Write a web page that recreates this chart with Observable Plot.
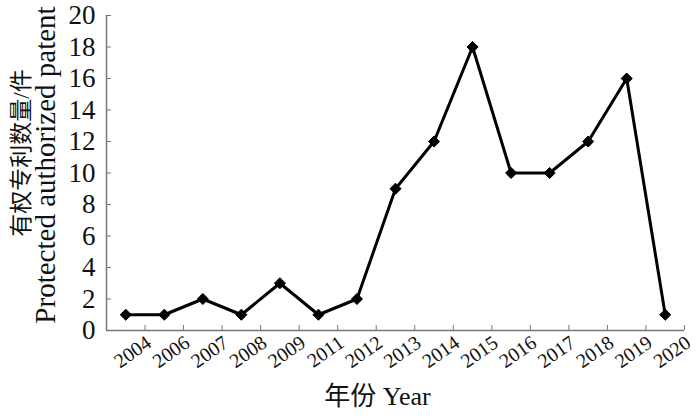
<!DOCTYPE html>
<html>
<head>
<meta charset="utf-8">
<script src="https://cdn.jsdelivr.net/npm/d3@7"></script>
<script src="https://cdn.jsdelivr.net/npm/@observablehq/plot@0.6"></script>
<style>
  html, body { margin: 0; padding: 0; background: #fff; }
  svg text { font-family: 'Liberation Serif', 'Noto Sans CJK SC', serif !important; font-variant: normal !important; }
</style>
</head>
<body>
<div id="chart"></div>
<script>
const years = ["2004","2006","2007","2008","2009","2011","2012","2013","2014","2015","2016","2017","2018","2019","2020"];
const counts = [1, 1, 2, 1, 3, 1, 2, 9, 12, 18, 10, 10, 12, 16, 1];
const yTicks = [0, 2, 4, 6, 8, 10, 12, 14, 16, 18, 20];
const yLabelZh = "有权专利数量/件";
const yLabelEn = "Protected authorized patent";
const xLabel = "年份 Year";

const data = counts.map((v, i) => ({pos: i + 0.5, value: v, year: years[i]}));
const tickPos = years.map((_, i) => i + 1);

const serif = "Liberation Serif, Noto Sans CJK SC, serif";
const axisColor = "#777";

const chart = Plot.plot({
  width: 700,
  height: 419,
  marginLeft: 106,
  marginRight: 16,
  marginTop: 15,
  marginBottom: 89,
  style: {fontFamily: serif, background: "#fff", color: "#111"},
  x: {domain: [0, years.length], axis: null},
  y: {domain: [0, 20], axis: null},
  marks: [
    Plot.ruleY([0], {stroke: axisColor, strokeWidth: 1.5}),
    Plot.ruleX([0], {stroke: axisColor, strokeWidth: 1.5}),
    Plot.axisX(tickPos, {anchor: "bottom", tickSize: 5, dy: -5, tickFormat: () => "", stroke: axisColor, label: null}),
    Plot.axisY(yTicks, {anchor: "left", tickSize: 5, dx: 5, tickFormat: () => "", stroke: axisColor, label: null}),
    Plot.axisX(tickPos, {anchor: "bottom", tickSize: 0, tickPadding: 10, dx: 4, tickRotate: -35, tickFormat: d => years[d - 1], fontSize: 20, fontFamily: serif, fontVariant: "normal", fill: "#111", label: null}),
    Plot.axisY(yTicks, {anchor: "left", tickSize: 0, tickPadding: 11, fontSize: 27, fontFamily: serif, fontVariant: "normal", fill: "#111", label: null}),
    Plot.line(data, {x: "pos", y: "value", stroke: "#000", strokeWidth: 3, strokeLinejoin: "miter"}),
    Plot.dot(data, {x: "pos", y: "value", symbol: "diamond2", r: 5, fill: "#000", stroke: "#000", strokeWidth: 1}),
    Plot.text([yLabelZh], {frameAnchor: "left", dx: -85, dy: -20, rotate: -90, fontSize: 23, fontFamily: serif, fill: "#111", textAnchor: "middle", lineAnchor: "middle"}),
    Plot.text([yLabelEn], {frameAnchor: "left", dx: -61, dy: -8, rotate: -90, fontSize: 29, fontFamily: serif, fill: "#111", textAnchor: "middle", lineAnchor: "middle"}),
    Plot.text([xLabel], {frameAnchor: "bottom", dx: -18, dy: 66, fontSize: 26, fontFamily: serif, fill: "#111", textAnchor: "middle", lineAnchor: "middle"})
  ]
});
document.getElementById("chart").appendChild(chart);
</script>
</body>
</html>
